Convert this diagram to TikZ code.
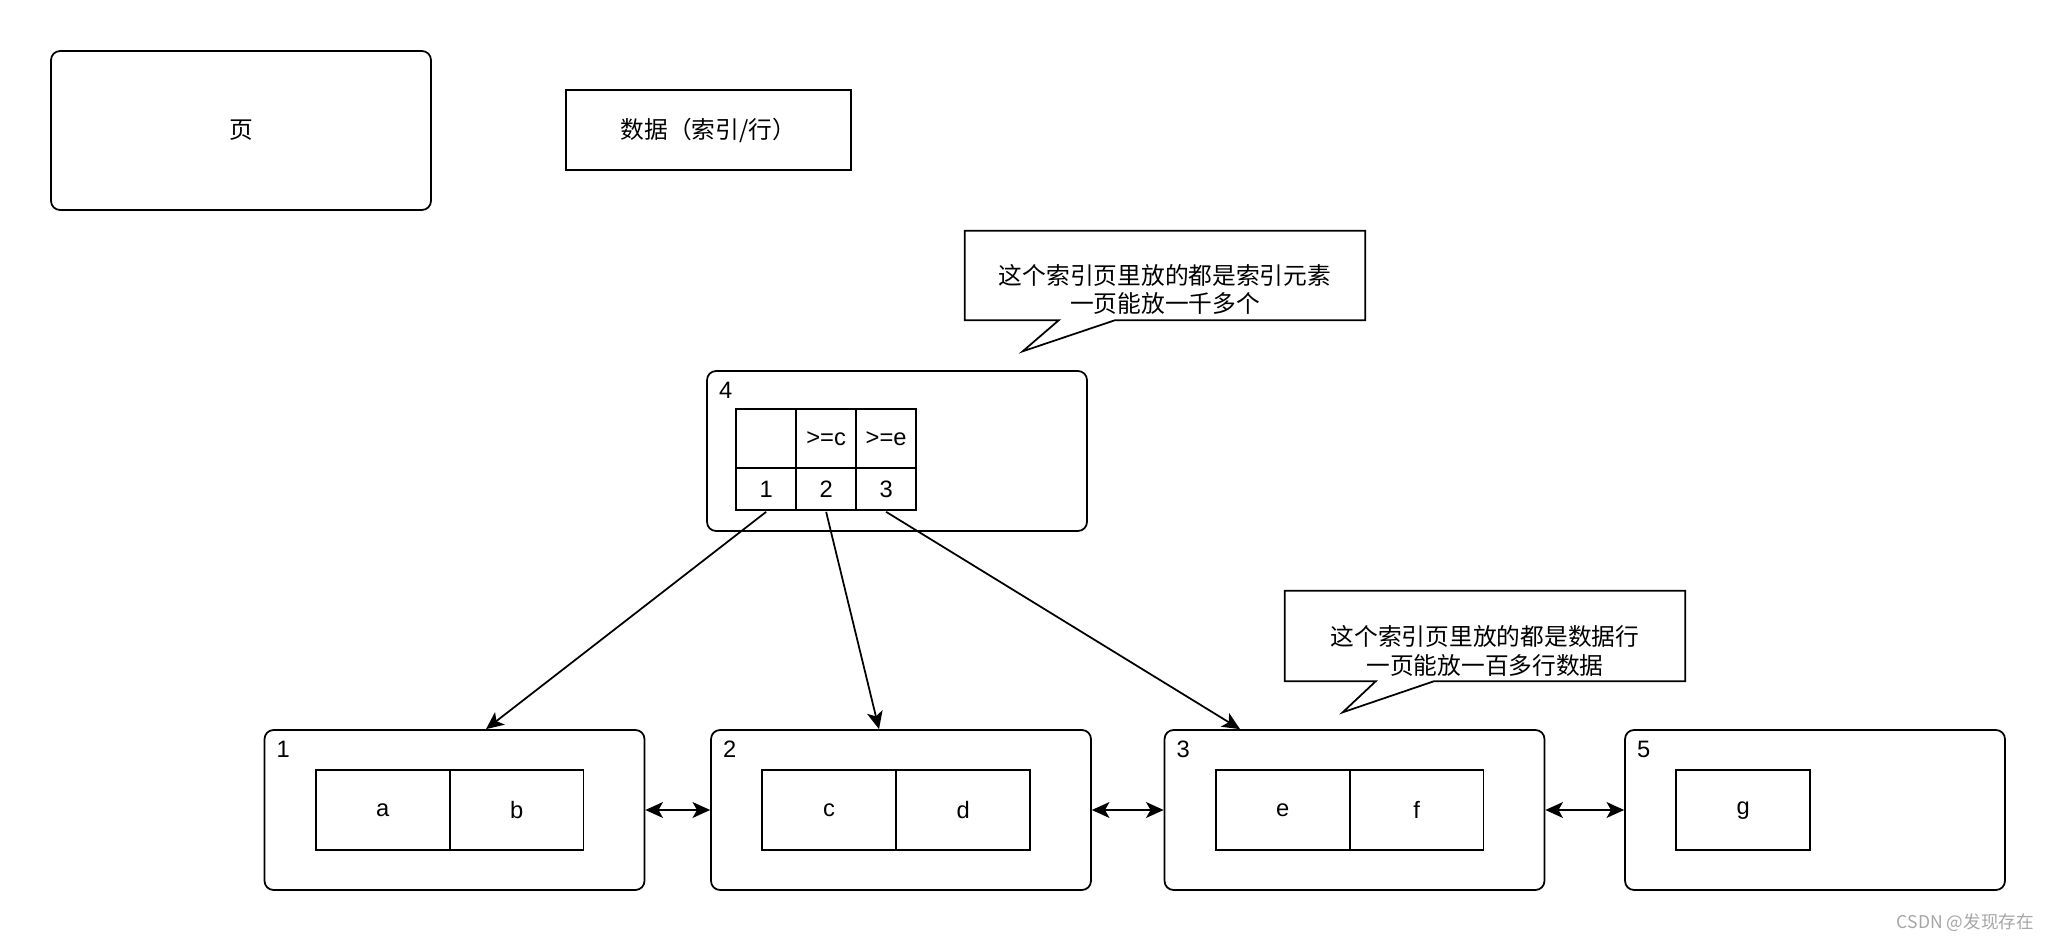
\documentclass[tikz,border=0pt]{standalone}
\usepackage{fontspec}
\usepackage{tikz}
\setmainfont{Liberation Sans}
\newfontfamily\cjk{Noto Sans CJK SC}
\usetikzlibrary{arrows.meta,positioning}
\tikzstyle{page} = [
    rectangle,
    rounded corners=0.18cm,
    draw,
    line width=1pt,
    minimum width=7.6cm,
    minimum height=3.2cm
]
\tikzstyle{cell} = [
    rectangle,
    draw,
    line width=1pt,
    minimum width=2.68cm,
    minimum height=1.6cm,
    inner sep=0pt,
    outer sep=0pt
]
\tikzstyle{key} = [
    rectangle,
    draw,
    line width=1pt,
    minimum width=1.2cm,
    inner sep=0pt,
    outer sep=0pt
]
\tikzstyle{tag} = [anchor=north west, inner sep=0pt]
\tikzstyle{arrow} = [
    line width=1pt,
    -{Stealth[length=10pt,width=9pt,inset=2.5pt]}
]
\tikzstyle{link} = [
    line width=1pt,
    {Stealth[length=10pt,width=9pt,inset=2.5pt]}-{Stealth[length=10pt,width=9pt,inset=2.5pt]}
]
\tikzstyle{note} = [line width=1pt]

\begin{document}
\begin{tikzpicture}[x=0.02cm, y=-0.02cm, font=\fontsize{13.5pt}{16pt}\selectfont]
        \useasboundingbox (0,0) rectangle (2056,942);

        % Legend
        \node[page, minimum height=3.18cm] (legpage) at (241,130.5) {\cjk 页};
        \node[draw, line width=1pt, minimum width=5.7cm, minimum height=1.6cm] (legdata) at (708.5,130) {\cjk 数据（索引/行）};

        % Index page
        \node[page] (p4) at (897,451) {};
        \node[tag] (l4) at ([shift={(0.25cm,-0.23cm)}]p4.north west) {4};
        \node[key, minimum height=1.18cm, anchor=north west] (h1) at ([shift={(0.6cm,-0.78cm)}]p4.north west) {};
        \node[key, minimum height=1.18cm, right=0pt of h1] (h2) {>=c};
        \node[key, minimum height=1.18cm, right=0pt of h2] (h3) {>=e};
        \node[key, minimum height=0.84cm, below=0pt of h1] (k1) {1};
        \node[key, minimum height=0.84cm, below=0pt of h2] (k2) {2};
        \node[key, minimum height=0.84cm, below=0pt of h3] (k3) {3};

        % Data pages
        \node[page] (p1) at (454.5,810) {};
        \node[page] (p2) at (901,810) {};
        \node[page] (p3) at (1354.5,810) {};
        \node[page] (p5) at (1815,810) {};
        \foreach \p in {1,2,3,5} {
            \node[tag] (l\p) at ([shift={(0.25cm,-0.23cm)}]p\p.north west) {\p};
        }
        \node[cell, anchor=north west] (ca) at ([shift={(1.04cm,-0.82cm)}]p1.north west) {a};
        \node[cell, right=0pt of ca] (cb) {b};
        \node[cell, anchor=north west] (cc) at ([shift={(1.04cm,-0.82cm)}]p2.north west) {c};
        \node[cell, right=0pt of cc] (cd) {d};
        \node[cell, anchor=north west] (ce) at ([shift={(1.04cm,-0.82cm)}]p3.north west) {e};
        \node[cell, right=0pt of ce] (cf) {f};
        \node[cell, anchor=north west] (cg) at ([shift={(1.04cm,-0.82cm)}]p5.north west) {g};

        % Pointers
        \coordinate (t1) at ([xshift=0.63cm]p1.north);
        \coordinate (t2) at ([xshift=-0.44cm]p2.north);
        \coordinate (t3) at ([xshift=-2.29cm]p3.north);
        \draw[arrow] ([yshift=-1pt]k1.south) -- (t1);
        \draw[arrow] ([yshift=-1pt]k2.south) -- (t2);
        \draw[arrow] ([yshift=-1pt]k3.south) -- (t3);
        \draw[link] (p1) -- (p2);
        \draw[link] (p2) -- (p3);
        \draw[link] (p3) -- (p5);

        % Callouts
        \node[minimum width=8cm, minimum height=1.78cm] (n1) at (1165,275.5) {};
        \node[align=center] (n1text) at ([yshift=-0.28cm]n1.center) {\cjk 这个索引页里放的都是索引元素\\\cjk 一页能放一千多个};
        \draw[note] (n1.south west) -- (n1.north west) -- (n1.north east) -- (n1.south east)
            -- ([xshift=3cm]n1.south west) -- ([shift={(1.16cm,-0.62cm)}]n1.south west)
            -- ([xshift=1.88cm]n1.south west) -- cycle;
        \node[minimum width=8cm, minimum height=1.8cm] (n2) at (1485,636) {};
        \node[align=center] (n2text) at ([yshift=-0.3cm]n2.center) {\cjk 这个索引页里放的都是数据行\\\cjk 一页能放一百多行数据};
        \draw[note] (n2.south west) -- (n2.north west) -- (n2.north east) -- (n2.south east)
            -- ([xshift=2.98cm]n2.south west) -- ([shift={(1.16cm,-0.62cm)}]n2.south west)
            -- ([xshift=1.82cm]n2.south west) -- cycle;

        % Watermark
        \node[anchor=east, text=gray!70, font=\cjk\fontsize{10pt}{12pt}\selectfont] (mark) at (2040,923) {CSDN @发现存在};
    \end{tikzpicture}
\end{document}
